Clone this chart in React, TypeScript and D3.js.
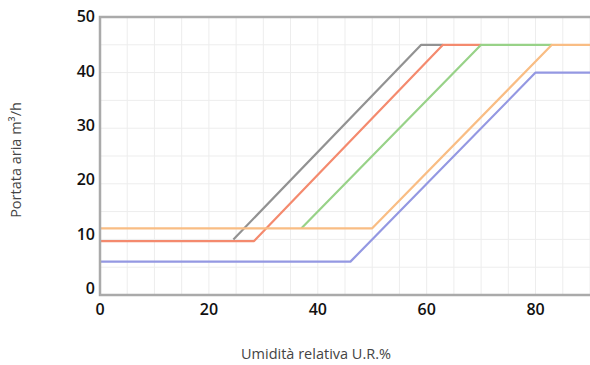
import React from "react";
import * as d3 from "d3";

const xTicks = [0, 20, 40, 60, 80];
const yTicks = [0, 10, 20, 30, 40, 50];
const gridX = d3.range(0, 91, 5);
const gridY = d3.range(0, 51, 5);

const seriesNames = ["grey", "red", "green", "orange", "blue"];
const seriesColors = ["#929292", "#f48a6e", "#98d288", "#f9bd84", "#9498e2"];
const greyPts: [number, number][] = [[24.5, 10], [59, 45], [63, 45]];
const redPts: [number, number][] = [[0, 9.7], [28.3, 9.7], [63, 45], [70, 45]];
const greenPts: [number, number][] = [[37, 12], [70, 45], [83, 45]];
const orangePts: [number, number][] = [[0, 12], [50, 12], [83, 45], [90, 45]];
const bluePts: [number, number][] = [[0, 6], [46, 6], [80, 40], [90, 40]];
const allSeries = [greyPts, redPts, greenPts, orangePts, bluePts];

export default function App() {
  const W = 590, H = 365;
  const left = 100, right = 590, top = 17, bottom = 295;
  const x = d3.scaleLinear().domain([0, 90]).range([left, right]);
  const y = d3.scaleLinear().domain([0, 50]).range([bottom, top]);
  const yLabel = d3.scaleLinear().domain([0, 50]).range([290, 18]);
  const line = d3.line<[number, number]>().x(d => x(d[0])).y(d => y(d[1]));
  return (
    <svg width={W} height={H} style={{ position: "absolute", left: 0, top: 0, background: "#fff" }}>
      <g>
        {gridX.map(v => (
          <line key={"gx" + v} x1={x(v)} x2={x(v)} y1={top} y2={bottom} stroke="#ededed" strokeWidth={1} />
        ))}
        {gridY.map(v => (
          <line key={"gy" + v} x1={left} x2={right} y1={y(v)} y2={y(v)} stroke="#ededed" strokeWidth={1} />
        ))}
      </g>
      <g fill="none" strokeWidth={2.2} strokeLinejoin="round">
        {allSeries.map((s, i) => (
          <path key={seriesNames[i]} d={line(s) || ""} stroke={seriesColors[i]} />
        ))}
      </g>
      <path d={`M${right},${top}H${left}V${bottom}H${right}`} fill="none" stroke="#aaaaaa" strokeWidth={2.5} />
      <g fontFamily="'Open Sans', sans-serif" fontWeight={600} fontSize={16} fill="#111">
        {yTicks.map(v => (
          <text key={"yt" + v} x={95} y={yLabel(v)} textAnchor="end" dominantBaseline="middle">{v}</text>
        ))}
        {xTicks.map(v => (
          <text key={"xt" + v} x={x(v)} y={311} textAnchor="middle" dominantBaseline="middle">{v}</text>
        ))}
      </g>
      <g fontFamily="'Open Sans', sans-serif" fontSize={14.5} fill="#444">
        <text x={316} y={355} textAnchor="middle" dominantBaseline="middle">Umidità relativa U.R.%</text>
        <text transform={`translate(17,160) rotate(-90)`} textAnchor="middle" dominantBaseline="middle">Portata aria m³/h</text>
      </g>
    </svg>
  );
}
